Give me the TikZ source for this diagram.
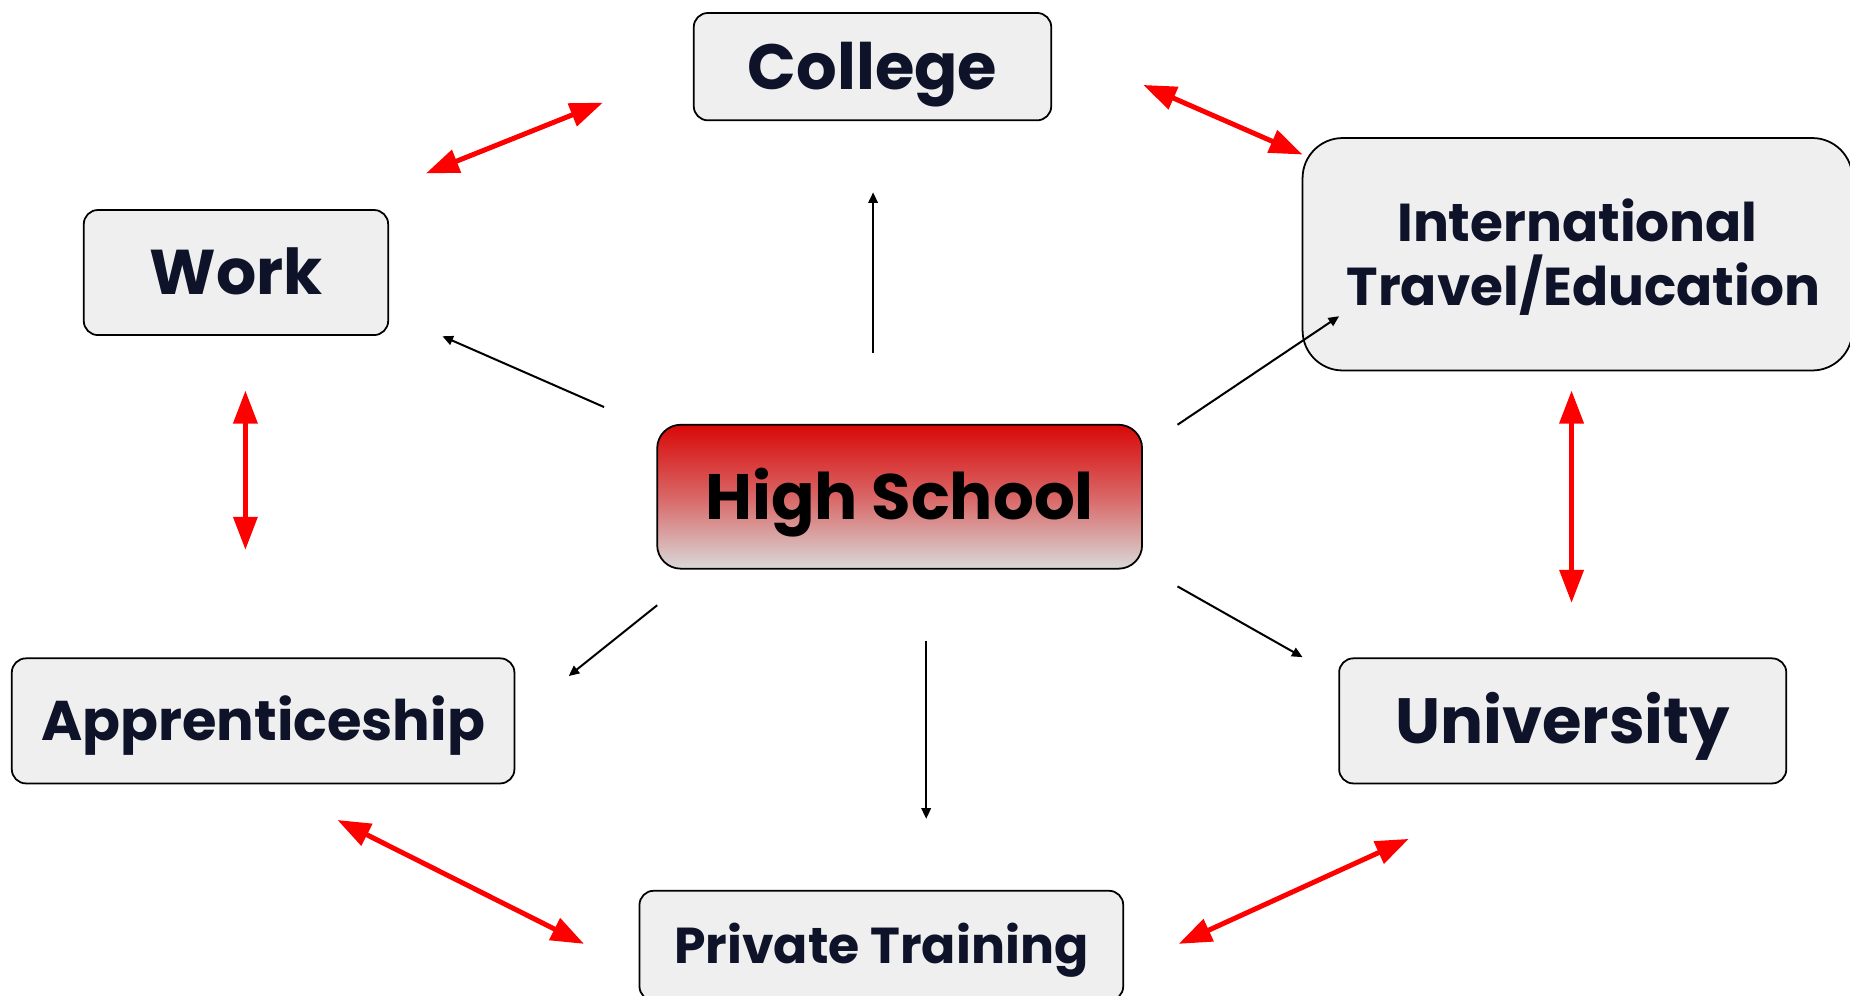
\documentclass[tikz,border=0pt]{standalone}
\usepackage{fontspec}
\setmainfont{Poppins}[BoldFont=* Bold]
\usetikzlibrary{arrows.meta}
\definecolor{navy}{HTML}{0F1329}
\definecolor{boxfill}{HTML}{EFEFEF}
\definecolor{hsred}{HTML}{D90808}
\definecolor{hsgray}{HTML}{D9D9D9}
\definecolor{arrred}{HTML}{FF0000}
\tikzset{
  box/.style={draw=black, line width=0.75pt, fill=boxfill, rounded corners=6pt,
    inner sep=0pt, text=navy, text depth=0pt, align=center},
  hsbox/.style={draw=black, line width=0.75pt, rounded corners=10pt, inner sep=0pt,
    top color=hsred, bottom color=hsgray, middle color=hsred!55!hsgray, text=black,
    text depth=0pt},
  flow/.style={draw=black, line width=0.85pt, -{Triangle[length=4.5pt,width=4pt]}},
  link/.style={draw=arrred, line width=2.1pt,
    {Triangle[length=14pt,width=10pt]}-{Triangle[length=14pt,width=10pt]}},
}
\begin{document}
\begin{tikzpicture}[x=0.5pt,y=-0.5pt]
\useasboundingbox (0,0) rectangle (1568,844);
\begin{scope}
\clip (0,0) rectangle (1568,844);
% boxes
\node[box, minimum width=151.5pt, minimum height=45.5pt, text height=19pt,
  font=\bfseries\fontsize{27.1pt}{32pt}\selectfont] (college) at (739.5,56.5) {College};
\node[box, minimum width=129pt, minimum height=53pt, text height=18.8pt,
  font=\bfseries\fontsize{26.8pt}{32pt}\selectfont] (work) at (200,231) {Work};
\node[box, minimum width=233pt, minimum height=98.5pt, rounded corners=17pt, text height=43.4pt,
  font=\bfseries\fontsize{22.6pt}{27.3pt}\selectfont] (intl) at (1337,215.5) {International\\\hspace*{5pt}Travel/Education};
\node[hsbox, minimum width=205.5pt, minimum height=61pt, text height=19pt,
  font=\bfseries\fontsize{27.2pt}{32pt}\selectfont] (hs) at (762.5,421) {High School};
\node[box, minimum width=213pt, minimum height=53pt, text height=16.6pt,
  font=\bfseries\fontsize{23.7pt}{28pt}\selectfont] (appr) at (223,611) {Apprenticeship};
\node[box, minimum width=189.5pt, minimum height=53pt, text height=19pt,
  font=\bfseries\fontsize{27.1pt}{32pt}\selectfont] (univ) at (1324.5,611) {University};
\node[box, minimum width=205pt, minimum height=46.5pt, text height=15pt,
  font=\bfseries\fontsize{21.4pt}{26pt}\selectfont] (priv) at (747,801.5) {Private Training};
\end{scope}
% coordinates for connector ends
\coordinate (hsN) at (740,299);  \coordinate (colS) at (740,163);
\coordinate (hsNW) at (512,345); \coordinate (workSE) at (375,285);
\coordinate (hsNE) at (998,360); \coordinate (intlSW) at (1135,268);
\coordinate (hsSW) at (557,513); \coordinate (apprNE) at (482,573);
\coordinate (hsS) at (785,543);  \coordinate (privN) at (785,694);
\coordinate (hsSE) at (998,497); \coordinate (univNW) at (1104,557);
\draw[flow] (hsN) -- (colS);
\draw[flow] (hsNW) -- (workSE);
\draw[flow] (hsNE) -- (intlSW);
\draw[flow] (hsSW) -- (apprNE);
\draw[flow] (hsS) -- (privN);
\draw[flow] (hsSE) -- (univNW);
% red links
\coordinate (workNE) at (361,147); \coordinate (colW) at (511,87);
\coordinate (colE) at (969,72);    \coordinate (intlNW) at (1104,131);
\coordinate (workS) at (208,331);  \coordinate (apprN) at (208,466);
\coordinate (intlS) at (1332,331); \coordinate (univN) at (1332,511);
\coordinate (apprSE) at (286,695); \coordinate (privW) at (495,800);
\coordinate (privE) at (999,800);  \coordinate (univSW) at (1194,711);
\draw[link] (workNE) -- (colW);
\draw[link] (colE) -- (intlNW);
\draw[link] (workS) -- (apprN);
\draw[link] (intlS) -- (univN);
\draw[link] (apprSE) -- (privW);
\draw[link] (privE) -- (univSW);
\end{tikzpicture}
\end{document}
